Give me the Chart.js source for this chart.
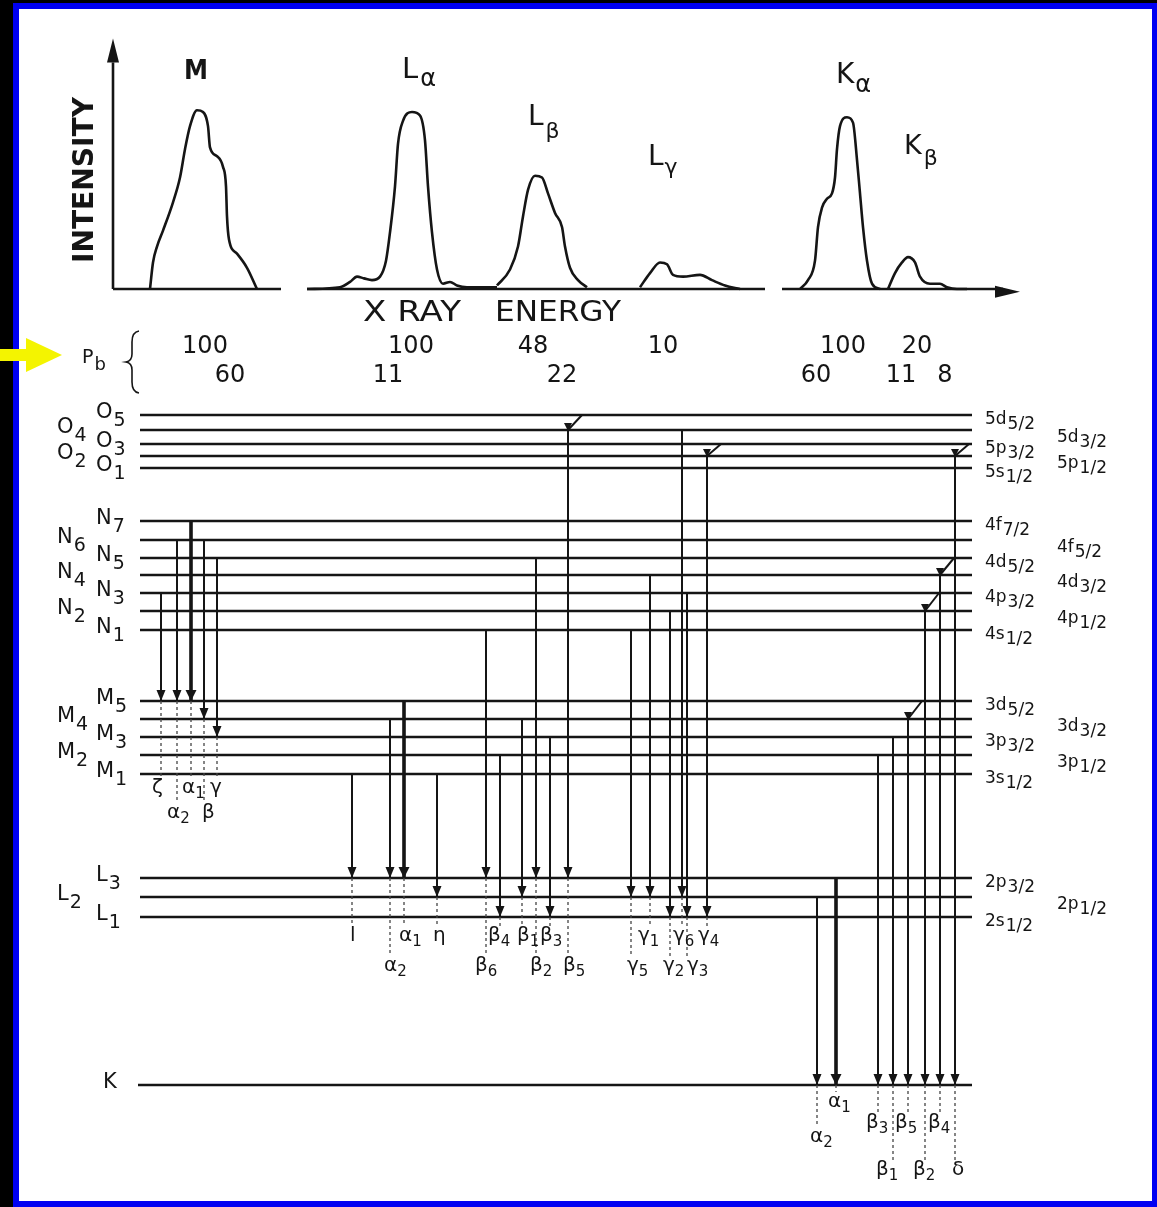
<!DOCTYPE html>
<html>
<head>
<meta charset="utf-8">
<script src="https://cdn.jsdelivr.net/npm/chart.js@4.4.1/dist/chart.umd.min.js"></script>
<style>
  html, body { margin: 0; padding: 0; background: #000; }
  #wrap { width: 1157px; height: 1207px; }
</style>
</head>
<body>
<div id="wrap"><canvas id="xrayChart"></canvas></div>
<script>
// ---- emission spectrum (energy in diagram units, intensity in %) ----
const mPeakE  = [150,153,157,163,173,180,185,190,197,203,208,210,217,223,226,227,229,237,247,257];
const mPeakI  = [0,15,24,33,49,63,79,92,101,100,92,80,75,69,58,41,28,20,12,0];
const laPeakE = [307,340,350,357,364,372,380,386,390,395,398,403,412,420,425,428,432,437,443,450,457,467,497];
const laPeakI = [0,1,4,7,6,5,7,16,32,58,82,95,100,98,84,58,32,11,3,4,2,1,1];
const lbPeakE = [497,510,518,523,528,535,542,548,555,562,565,570,578,587];
const lbPeakI = [2,11,24,41,56,64,63,54,43,35,24,12,5,1];
const lgPeakE = [640,650,660,667,673,683,700,712,725,740];
const lgPeakI = [1,9,15,14,8,7,8,5,2,0];
const kaPeakE = [800,808,815,818,822,827,832,835,837,840,847,853,857,860,863,867,872,880];
const kaPeakI = [0,5,16,35,46,51,54,63,79,92,97,94,73,54,35,16,3,0];
const kbPeakE = [888,895,902,908,915,920,930,940,947,957,967];
const kbPeakI = [0,9,15,18,15,7,3,3,1,0,0];
const baselineStart = [113,307,782];
const baselineEnd   = [281,765,1003];

// relative line intensities for Pb
const pbUpper  = ["100","100","48","10","100","20"];
const pbUpperE = [205,411,533,663,843,917];
const pbLower  = ["60","11","22","60","11","8"];
const pbLowerE = [230,388,562,816,901,945];

// ---- energy levels (schematic position, top = outer shell) ----
const levelNames  = ["O5","O4","O3","O2","O1","N7","N6","N5","N4","N3","N2","N1","M5","M4","M3","M2","M1","L3","L2","L1","K"];
const levelPos    = [415,430,444,456,468,521,540,558,575,593,611,630,701,719,737,755,774,878,897,917,1085];
const levelStates = ["5d|5/2","5d|3/2","5p|3/2","5p|1/2","5s|1/2","4f|7/2","4f|5/2","4d|5/2","4d|3/2","4p|3/2","4p|1/2","4s|1/2",
                     "3d|5/2","3d|3/2","3p|3/2","3p|1/2","3s|1/2","2p|3/2","2p|1/2","2s|1/2",""];

// ---- transitions ----
const transSeries = ["M","M","M","M","M",
  "L","L","L","L","L","L","L","L","L","L","L","L","L","L","L","L",
  "K","K","K","K","K","K","K","K"];
const transGreek = ["ζ","α","α","β","γ",
  "l","α","α","η","β","β","β","β","β","β","γ","γ","γ","γ","γ","γ",
  "α","α","β","β","β","β","β","δ"];
const transIndex = ["","2","1","","",
  "","2","1","","6","4","1","2","3","5","5","1","2","6","3","4",
  "2","1","3","1","5","2","4",""];
const transX = [161,177,191,204,217,
  352,390,404,437,486,500,522,536,550,568,631,650,670,682,687,707,
  817,836,878,893,908,925,940,955];
const transFrom = ["N3","N6","N7","N6","N5",
  "M1","M4","M5","M1","N1","M2","M4","N5","M3","O4","N1","N4","N2","O4","N3","O2",
  "L2","L3","M2","M3","M4","N2","N4","O2"];
const transAlso = [null,null,null,null,null,
  null,null,null,null,null,null,null,null,null,"O5",null,null,null,null,null,"O3",
  null,null,null,null,"M5","N3","N5","O3"];
const transTo = ["M5","M5","M5","M4","M3",
  "L3","L3","L3","L2","L3","L1","L2","L3","L1","L3","L2","L2","L1","L2","L1","L1",
  "K","K","K","K","K","K","K","K"];
const transStrong = [false,false,true,false,false,
  false,false,true,false,false,false,false,false,false,false,false,false,false,false,false,false,
  false,true,false,false,false,false,false,false];

// ---- layout ----
const labelRowY = { M: [788, 813], L: [936, 966], K: [1102, 1123, 1137, 1170] };
const labelRow = [0,1,0,1,0, 0,1,0,0,1,0,0,1,0,1,1,0,1,0,1,0, 2,0,1,3,1,3,1,3];
const labelDx  = [-9,-10,-9,-2,-7, -2,-6,-5,-4,-11,-12,-5,-6,-10,-5,-4,-12,-7,-9,0,-9, -7,-8,-12,-17,-13,-12,-12,-3];
const levelLeft = 140, levelRight = 972, tickDx = 14;
const INK = "#151515";
const FONT = '"DejaVu Sans", sans-serif';

const pos = name => levelPos[levelNames.indexOf(name)];

const datasets = [];
function seg(pts, opts) {
  datasets.push(Object.assign({
    data: pts, showLine: true, pointRadius: 0, borderColor: INK,
    borderWidth: 2, fill: false, yAxisID: "y", order: 1
  }, opts));
}

// level lines
levelNames.forEach((n, i) => {
  seg([{x: n === "K" ? levelLeft - 2 : levelLeft, y: levelPos[i]}, {x: levelRight, y: levelPos[i]}],
      {borderWidth: 2.3, order: 3});
});

// transitions: solid arrow shaft, tick to second level, dashed drop to label
transX.forEach((tx, i) => {
  const from = pos(transFrom[i]), to = pos(transTo[i]);
  seg([{x: tx, y: from}, {x: tx, y: to}], {borderWidth: transStrong[i] ? 3.6 : 2, order: 1});
  if (transAlso[i]) seg([{x: tx, y: from}, {x: tx + tickDx, y: pos(transAlso[i])}], {borderWidth: 2, order: 1});
  const rowY = labelRowY[transSeries[i]][labelRow[i]];
  seg([{x: tx, y: to}, {x: tx, y: rowY - 10}], {borderWidth: 1.3, borderDash: [3, 3], borderColor: "#444", order: 2});
});

// spectrum
const peakSets = [[mPeakE, mPeakI], [laPeakE, laPeakI], [lbPeakE, lbPeakI], [lgPeakE, lgPeakI], [kaPeakE, kaPeakI], [kbPeakE, kbPeakI]];
peakSets.forEach(([e, v]) => {
  seg(e.map((x, k) => ({x: x, y: v[k]})), {yAxisID: "yI", borderWidth: 2.6, tension: 0.4, cubicInterpolationMode: "monotone"});
});
baselineStart.forEach((s, k) => {
  seg([{x: s, y: 0}, {x: baselineEnd[k], y: 0}], {yAxisID: "yI", borderWidth: 2.6});
});
seg([{x: 113, y: 0}, {x: 113, y: 128}], {yAxisID: "yI", borderWidth: 2.6});

function head(ctx, px, py, hw, hh) {
  ctx.beginPath();
  ctx.moveTo(px, py);
  ctx.lineTo(px - hw, py - hh);
  ctx.lineTo(px + hw, py - hh);
  ctx.closePath();
  ctx.fill();
}

function subText(ctx, px, py, main, sub, f1, f2, dy, gap) {
  ctx.font = f1;
  ctx.fillText(main, px, py);
  const w = ctx.measureText(main).width;
  if (sub) {
    ctx.font = f2;
    ctx.fillText(sub, px + w + (gap || 0), py + dy);
  }
}

function fitText(ctx, text, left, cy, width, font) {
  ctx.font = font;
  const w = ctx.measureText(text).width;
  ctx.save();
  ctx.translate(left, cy);
  ctx.scale(width / w, 1);
  ctx.fillText(text, 0, 0);
  ctx.restore();
}

const framePlugin = {
  id: "frame",
  beforeDraw(chart) {
    const ctx = chart.ctx, w = chart.width, h = chart.height;
    const X = v => chart.scales.x.getPixelForValue(v), Y = v => chart.scales.y.getPixelForValue(v);
    ctx.save();
    ctx.fillStyle = "#000";
    ctx.fillRect(0, 0, w, h);
    ctx.fillStyle = "#0000f2";
    ctx.fillRect(X(13), Y(3), w - X(13), h - Y(3));
    ctx.fillStyle = "#fff";
    ctx.fillRect(X(19), Y(9), X(1152) - X(19), Y(1201) - Y(9));
    ctx.restore();
  },
  afterDraw(chart) {
    const ctx = chart.ctx;
    const X = v => chart.scales.x.getPixelForValue(v), Y = v => chart.scales.y.getPixelForValue(v);
    const YI = v => chart.scales.yI.getPixelForValue(v);
    ctx.save();
    ctx.fillStyle = INK;

    // arrowheads on transitions
    transX.forEach((tx, i) => {
      const big = transStrong[i];
      head(ctx, X(tx), Y(pos(transTo[i])), big ? 5.5 : 4.5, 11);
      if (transAlso[i]) head(ctx, X(tx), Y(pos(transFrom[i])) + 1, 4, 8);
    });

    // spectrum axis arrows
    head(ctx, X(113), YI(141.5), 6, -24);
    ctx.beginPath();
    ctx.moveTo(X(1020), YI(-1.5));
    ctx.lineTo(X(995), YI(-1.5) - 6);
    ctx.lineTo(X(995), YI(-1.5) + 6);
    ctx.closePath();
    ctx.fill();
    ctx.lineWidth = 2.6;
    ctx.strokeStyle = INK;
    ctx.beginPath();
    ctx.moveTo(X(1003), YI(0));
    ctx.lineTo(X(997), YI(-1.5));
    ctx.stroke();

    ctx.textBaseline = "middle";
    ctx.textAlign = "left";

    // spectrum labels
    ctx.save();
    ctx.translate(X(86), Y(180));
    ctx.rotate(-Math.PI / 2);
    fitText(ctx, "INTENSITY", -83, 0, 166, "bold 28px " + FONT);
    ctx.restore();
    fitText(ctx, "M", X(184), Y(72), 24, "bold 26px " + FONT);
    subText(ctx, X(402), Y(70), "L", "α", "29px " + FONT, "24px " + FONT, 10, 2);
    subText(ctx, X(528), Y(118), "L", "β", "28px " + FONT, "22px " + FONT, 14, 2);
    subText(ctx, X(648), Y(158), "L", "γ", "28px " + FONT, "22px " + FONT, 10, 1);
    subText(ctx, X(836), Y(76), "K", "α", "28px " + FONT, "24px " + FONT, 10, 1);
    subText(ctx, X(904), Y(147), "K", "β", "27px " + FONT, "22px " + FONT, 12, 2);
    fitText(ctx, "X RAY", X(363), Y(314), 98, "28px " + FONT);
    fitText(ctx, "ENERGY", X(495), Y(314), 126, "28px " + FONT);

    // Pb intensity rows
    subText(ctx, X(82), Y(358), "P", "b", "19px " + FONT, "18px " + FONT, 7, 1);
    ctx.textAlign = "center";
    ctx.font = "24px " + FONT;
    pbUpper.forEach((t, k) => ctx.fillText(t, X(pbUpperE[k]), Y(347)));
    pbLower.forEach((t, k) => ctx.fillText(t, X(pbLowerE[k]), Y(376)));
    ctx.textAlign = "left";

    // brace
    ctx.lineWidth = 1.6;
    ctx.beginPath();
    ctx.moveTo(X(139), Y(331));
    ctx.quadraticCurveTo(X(132), Y(332), X(132), Y(342));
    ctx.lineTo(X(132), Y(354));
    ctx.quadraticCurveTo(X(132), Y(361), X(126), Y(362));
    ctx.quadraticCurveTo(X(132), Y(363), X(132), Y(370));
    ctx.lineTo(X(132), Y(382));
    ctx.quadraticCurveTo(X(132), Y(392), X(139), Y(393));
    ctx.stroke();

    // level names (left) and states (right)
    levelNames.forEach((n, i) => {
      const odd = n === "K" || Number(n[1]) % 2 === 1;
      const col = n === "K" ? 103 : (odd ? 96 : 57);
      subText(ctx, X(col), Y(levelPos[i] - 2), n[0], n.slice(1), "21px " + FONT, "19px " + FONT, 8, 1);
      if (levelStates[i]) {
        const parts = levelStates[i].split("|");
        subText(ctx, X(odd ? 985 : 1057), Y(levelPos[i] + (odd ? 5 : 8)), parts[0], parts[1], "17px " + FONT, "17px " + FONT, 5, 1);
      }
    });

    // transition labels
    transX.forEach((tx, i) => {
      const rowY = labelRowY[transSeries[i]][labelRow[i]];
      subText(ctx, X(tx + labelDx[i]), Y(rowY), transGreek[i], transIndex[i], "20px " + FONT, "15px " + FONT, 6, 0);
    });

    // yellow pointer
    ctx.fillStyle = "#f4f400";
    ctx.fillRect(X(0), Y(349), X(27) - X(0), Y(361) - Y(349));
    ctx.beginPath();
    ctx.moveTo(X(62), Y(355));
    ctx.lineTo(X(26), Y(338));
    ctx.lineTo(X(26), Y(372));
    ctx.closePath();
    ctx.fill();
    ctx.restore();
  }
};

new Chart(document.getElementById("xrayChart").getContext("2d"), {
  type: "scatter",
  data: { datasets: datasets },
  options: {
    responsive: true,
    maintainAspectRatio: false,
    animation: false,
    events: [],
    layout: { padding: 0 },
    plugins: { legend: { display: false }, tooltip: { enabled: false } },
    scales: {
      x: { type: "linear", min: 0, max: 1157, display: false },
      y: { type: "linear", axis: "y", min: 0, max: 1207, reverse: true, display: false },
      yI: { type: "linear", axis: "y", min: -518.64, max: 163.28, display: false }
    }
  },
  plugins: [framePlugin]
});
</script>
</body>
</html>
